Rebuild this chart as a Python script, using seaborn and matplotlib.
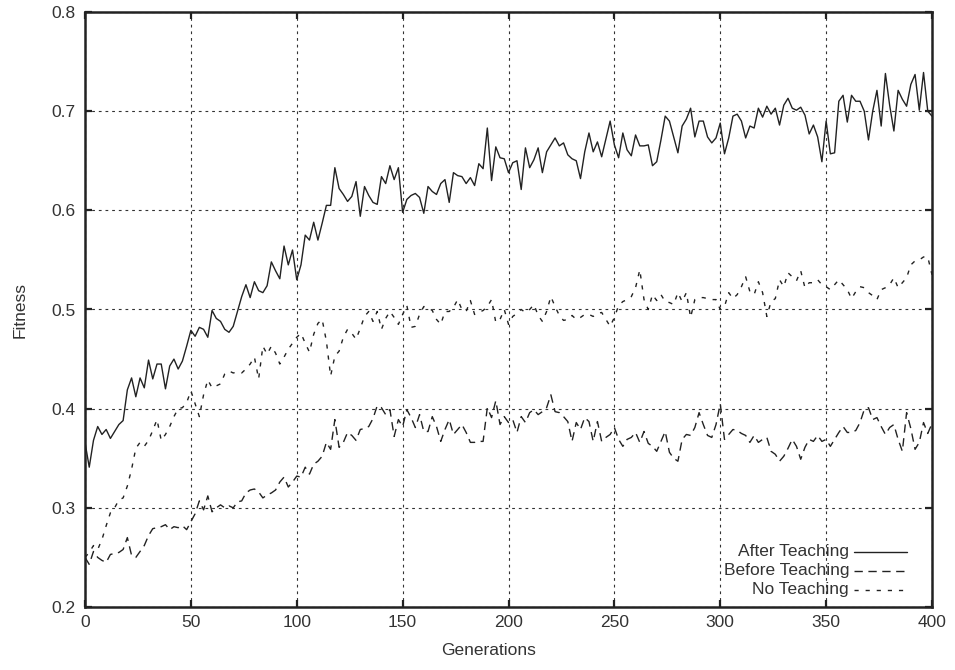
import numpy as np
import pandas as pd
import matplotlib
matplotlib.use("Agg")
import matplotlib.pyplot as plt
import seaborn as sns

generations = np.arange(0, 401, 2)

after_teaching = [
    0.366, 0.341, 0.368, 0.382, 0.374, 0.379, 0.370, 0.377, 0.384, 0.388,
    0.419, 0.431, 0.412, 0.431, 0.421, 0.449, 0.430, 0.445, 0.445, 0.420,
    0.443, 0.450, 0.440, 0.448, 0.463, 0.479, 0.473, 0.482, 0.480, 0.472,
    0.499, 0.491, 0.488, 0.480, 0.477, 0.483, 0.498, 0.513, 0.525, 0.512,
    0.528, 0.519, 0.517, 0.524, 0.548, 0.539, 0.531, 0.564, 0.545, 0.560,
    0.530, 0.545, 0.575, 0.570, 0.588, 0.570, 0.587, 0.605, 0.605, 0.643,
    0.622, 0.616, 0.609, 0.614, 0.629, 0.594, 0.624, 0.615, 0.608, 0.606,
    0.634, 0.627, 0.645, 0.631, 0.643, 0.598, 0.611, 0.615, 0.617, 0.613,
    0.597, 0.624, 0.619, 0.616, 0.627, 0.631, 0.608, 0.638, 0.635, 0.634,
    0.627, 0.633, 0.625, 0.647, 0.642, 0.683, 0.630, 0.664, 0.653, 0.652,
    0.638, 0.648, 0.650, 0.621, 0.663, 0.643, 0.651, 0.663, 0.638, 0.659,
    0.666, 0.673, 0.665, 0.668, 0.656, 0.652, 0.650, 0.632, 0.659, 0.678,
    0.659, 0.669, 0.654, 0.672, 0.690, 0.666, 0.653, 0.678, 0.661, 0.655,
    0.676, 0.665, 0.665, 0.666, 0.645, 0.649, 0.671, 0.695, 0.690, 0.674,
    0.658, 0.685, 0.692, 0.703, 0.674, 0.690, 0.690, 0.674, 0.668, 0.673,
    0.688, 0.657, 0.673, 0.695, 0.697, 0.690, 0.673, 0.685, 0.683, 0.703,
    0.694, 0.705, 0.697, 0.703, 0.686, 0.706, 0.713, 0.703, 0.701, 0.704,
    0.696, 0.677, 0.686, 0.674, 0.649, 0.690, 0.657, 0.658, 0.710, 0.716,
    0.689, 0.716, 0.710, 0.710, 0.700, 0.671, 0.700, 0.721, 0.685, 0.738,
    0.706, 0.680, 0.721, 0.712, 0.705, 0.727, 0.737, 0.701, 0.739, 0.700,
    0.695,
]

before_teaching = [
    0.250, 0.243, 0.256, 0.250, 0.247, 0.245, 0.253, 0.254, 0.255, 0.258,
    0.270, 0.252, 0.250, 0.256, 0.262, 0.272, 0.279, 0.280, 0.281, 0.283,
    0.278, 0.281, 0.280, 0.282, 0.278, 0.286, 0.294, 0.307, 0.298, 0.312,
    0.296, 0.300, 0.303, 0.300, 0.302, 0.300, 0.306, 0.307, 0.315, 0.318,
    0.319, 0.316, 0.310, 0.313, 0.315, 0.318, 0.326, 0.331, 0.321, 0.326,
    0.332, 0.331, 0.341, 0.334, 0.344, 0.347, 0.352, 0.366, 0.359, 0.389,
    0.361, 0.366, 0.376, 0.373, 0.368, 0.379, 0.380, 0.382, 0.390, 0.403,
    0.401, 0.394, 0.399, 0.372, 0.389, 0.382, 0.399, 0.391, 0.381, 0.394,
    0.377, 0.377, 0.392, 0.382, 0.367, 0.379, 0.389, 0.374, 0.379, 0.384,
    0.376, 0.366, 0.366, 0.367, 0.367, 0.401, 0.391, 0.408, 0.384, 0.392,
    0.386, 0.389, 0.376, 0.392, 0.386, 0.396, 0.399, 0.394, 0.397, 0.401,
    0.414, 0.397, 0.396, 0.392, 0.387, 0.367, 0.386, 0.379, 0.391, 0.387,
    0.367, 0.387, 0.367, 0.371, 0.374, 0.381, 0.369, 0.362, 0.369, 0.371,
    0.376, 0.366, 0.377, 0.365, 0.362, 0.357, 0.367, 0.377, 0.356, 0.350,
    0.347, 0.369, 0.374, 0.373, 0.381, 0.396, 0.384, 0.373, 0.371, 0.384,
    0.405, 0.369, 0.374, 0.379, 0.378, 0.375, 0.373, 0.366, 0.373, 0.366,
    0.369, 0.371, 0.357, 0.354, 0.347, 0.352, 0.360, 0.369, 0.362, 0.349,
    0.361, 0.369, 0.367, 0.373, 0.367, 0.369, 0.362, 0.369, 0.376, 0.382,
    0.376, 0.376, 0.378, 0.386, 0.399, 0.401, 0.389, 0.391, 0.382, 0.374,
    0.381, 0.384, 0.369, 0.357, 0.396, 0.380, 0.359, 0.366, 0.386, 0.375,
    0.385,
]

no_teaching = [
    0.250, 0.255, 0.262, 0.258, 0.268, 0.282, 0.295, 0.300, 0.308, 0.310,
    0.322, 0.339, 0.360, 0.366, 0.362, 0.368, 0.378, 0.389, 0.368, 0.374,
    0.382, 0.392, 0.400, 0.401, 0.406, 0.418, 0.405, 0.392, 0.414, 0.429,
    0.421, 0.423, 0.425, 0.435, 0.438, 0.436, 0.437, 0.436, 0.440, 0.445,
    0.452, 0.430, 0.463, 0.455, 0.463, 0.456, 0.445, 0.452, 0.460, 0.466,
    0.472, 0.476, 0.466, 0.457, 0.475, 0.486, 0.490, 0.468, 0.433, 0.453,
    0.458, 0.472, 0.480, 0.476, 0.470, 0.481, 0.493, 0.498, 0.488, 0.498,
    0.480, 0.491, 0.498, 0.492, 0.485, 0.495, 0.504, 0.482, 0.483, 0.495,
    0.503, 0.502, 0.499, 0.490, 0.485, 0.498, 0.498, 0.502, 0.510, 0.500,
    0.498, 0.509, 0.495, 0.497, 0.499, 0.503, 0.510, 0.487, 0.490, 0.500,
    0.485, 0.493, 0.496, 0.500, 0.497, 0.500, 0.505, 0.494, 0.488, 0.498,
    0.513, 0.503, 0.494, 0.489, 0.490, 0.494, 0.490, 0.492, 0.495, 0.495,
    0.493, 0.496, 0.497, 0.490, 0.483, 0.492, 0.504, 0.508, 0.510, 0.513,
    0.522, 0.540, 0.510, 0.500, 0.515, 0.509, 0.515, 0.508, 0.507, 0.505,
    0.517, 0.508, 0.517, 0.492, 0.510, 0.512, 0.512, 0.511, 0.510, 0.510,
    0.500, 0.503, 0.517, 0.511, 0.515, 0.523, 0.533, 0.518, 0.515, 0.528,
    0.517, 0.493, 0.508, 0.511, 0.530, 0.523, 0.537, 0.533, 0.529, 0.539,
    0.522, 0.527, 0.527, 0.530, 0.525, 0.523, 0.520, 0.525, 0.530, 0.525,
    0.520, 0.511, 0.518, 0.523, 0.522, 0.517, 0.514, 0.510, 0.520, 0.522,
    0.525, 0.532, 0.522, 0.527, 0.532, 0.545, 0.549, 0.550, 0.553, 0.553,
    0.535,
]

series_names = ["After Teaching", "Before Teaching", "No Teaching"]
x_ticks = [0, 50, 100, 150, 200, 250, 300, 350, 400]
y_ticks = [0.2, 0.3, 0.4, 0.5, 0.6, 0.7, 0.8]

sns.set_style("white")
plt.rcParams["font.family"] = ["Liberation Sans", "DejaVu Sans"]

W, H = 955, 670
L, R, T, B = 85, 932, 12, 607
fig = plt.figure(figsize=(W / 100, H / 100), dpi=100)
ax = fig.add_axes([L / W, 1 - B / H, (R - L) / W, (B - T) / H])

ink = "#222222"
text_ink = "#333333"
fs = 12.5
dash_styles = [None, (0, (6, 4)), (0, (3, 5))]

for name, vals, ls in zip(series_names, [after_teaching, before_teaching, no_teaching], dash_styles):
    df = pd.DataFrame({"Generations": generations, "Fitness": vals})
    sns.lineplot(data=df, x="Generations", y="Fitness", ax=ax, color=ink,
                 linewidth=1.0, linestyle="-" if ls is None else ls, zorder=3)

ax.set_xlim(0, 400)
ax.set_ylim(0.2, 0.8)
ax.set_xticks(x_ticks)
ax.set_yticks(y_ticks)
ax.set_xticklabels([str(t) for t in x_ticks])
ax.set_yticklabels([f"{t:.1f}" for t in y_ticks])

ax.grid(True, color="#333333", linewidth=0.8, linestyle=(0, (2.5, 3.5)), zorder=1)
for sp in ax.spines.values():
    sp.set_visible(True)
    sp.set_linewidth(1.8)
    sp.set_color(ink)

ax.tick_params(axis="both", which="major", direction="in", length=5, width=1.6,
               color=ink, labelsize=fs, labelcolor=text_ink,
               top=True, right=True, bottom=True, left=True)
ax.tick_params(axis="y", pad=7)
ax.tick_params(axis="x", pad=6)

ax.set_xlabel("Generations", fontsize=fs, color=text_ink)
ax.set_ylabel("Fitness", fontsize=fs, color=text_ink)
ax.xaxis.set_label_coords((489 - L) / (R - L), -(643 - B) / (B - T))
ax.yaxis.set_label_coords(-(L - 28) / (R - L), 0.5)

# gnuplot-style key at bottom right: right-aligned text, sample line after it
key_y = [551.5, 570.5, 589.5]
for name, ly, ls in zip(series_names, key_y, dash_styles):
    yy = 1 - (ly - T) / (B - T)
    x_text = (849 - L) / (R - L)
    x0 = (854 - L) / (R - L)
    x1 = (907 - L) / (R - L)
    ax.text(x_text, yy, name, transform=ax.transAxes, ha="right", va="center",
            fontsize=fs, color=text_ink, zorder=5)
    ax.plot([x0, x1], [yy, yy], transform=ax.transAxes, color=ink, linewidth=1.0,
            linestyle="-" if ls is None else ls, zorder=5)

fig.savefig("out.png", dpi=100, facecolor="white")
